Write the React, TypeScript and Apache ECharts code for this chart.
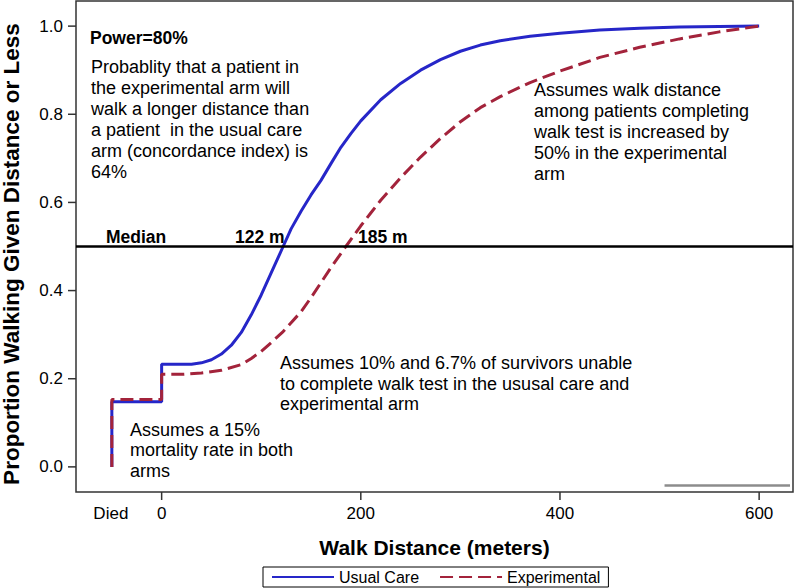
import React, { useEffect, useRef } from "react";
import * as echarts from "echarts";

// Usual Care curve (walk distance in m, cumulative proportion); -50 = "Died"
const usualX = [-50, -50, 0, 0, 30, 40, 50, 60, 70, 80, 90, 100, 110, 122, 130, 140, 150, 160, 170, 180, 190, 200, 220, 240, 260, 280, 300, 320, 340, 370, 400, 440, 480, 520, 560, 600];
const usualY = [0, 0.148, 0.148, 0.233, 0.233, 0.236, 0.243, 0.256, 0.276, 0.305, 0.345, 0.39, 0.44, 0.5, 0.54, 0.58, 0.617, 0.65, 0.688, 0.725, 0.756, 0.785, 0.833, 0.87, 0.9, 0.924, 0.943, 0.957, 0.967, 0.977, 0.984, 0.991, 0.995, 0.998, 0.999, 1.0];

// Experimental curve
const expX = [-50, -50, 0, 0, 20, 40, 60, 80, 90, 100, 110, 122, 130, 140, 150, 160, 170, 185, 200, 210, 220, 240, 260, 280, 300, 320, 340, 370, 400, 440, 480, 520, 560, 600];
const expY = [0, 0.153, 0.153, 0.21, 0.21, 0.213, 0.219, 0.232, 0.246, 0.262, 0.282, 0.307, 0.327, 0.352, 0.384, 0.418, 0.452, 0.5, 0.547, 0.576, 0.605, 0.656, 0.703, 0.745, 0.783, 0.815, 0.84, 0.872, 0.898, 0.929, 0.952, 0.971, 0.987, 1.0];

// small grey segment at lower right
const greyX = [505, 631];
const greyY = [-0.042, -0.042];

const medianValue = 0.5;
const xMin = -86;
const xMax = 634;
const yMin = -0.057;
const yMax = 1.057;
const xTickValues = [0, 200, 400, 600];
const xLabelValues = [-51, 0, 200, 400, 600];
const yTickValues = [0, 0.2, 0.4, 0.6, 0.8, 1.0];

const FONT = "Arial, 'Liberation Sans', Helvetica, sans-serif";
const GRID = { left: 76, right: 4, top: 1, bottom: 96 };
const W = 797;
const H = 588;

const zip = (xs: number[], ys: number[]) => xs.map((x, i) => [x, ys[i]]);

export default function App() {
  const ref = useRef<HTMLDivElement>(null);
  useEffect(() => {
    if (!ref.current) return;
    const chart = echarts.init(ref.current, undefined, { renderer: "svg" });
    const txt = (x: number, y: number, text: string, size: number, bold = false, lh = 21) => ({
      type: "text",
      x,
      y,
      style: {
        text,
        fontSize: size,
        fontWeight: bold ? "bold" : "normal",
        fontFamily: FONT,
        fill: "#000",
        lineHeight: lh,
      },
    });
    const textElements: any[] = [
      {
        type: "text",
        x: 11,
        y: 254,
        rotation: Math.PI / 2,
        style: {
          text: "Proportion Walking Given Distance or Less",
          fontSize: 22.5,
          fontWeight: "bold",
          fontFamily: FONT,
          fill: "#000",
          align: "center",
          verticalAlign: "middle",
        },
      },
      txt(90, 28, "Power=80%", 17.5, true, 20),
      txt(91, 56, "Probablity that a patient in\nthe experimental arm will\nwalk a longer distance than\na patient  in the usual care\narm (concordance index) is\n64%", 18, false, 21),
      txt(534, 79.5, "Assumes walk distance\namong patients completing\nwalk test is increased by\n50% in the experimental\narm", 18, false, 21),
      txt(280, 353, "Assumes 10% and 6.7% of survivors unable\nto complete walk test in the ususal care and\nexperimental arm", 18, false, 20.5),
      txt(130, 419.5, "Assumes a 15%\nmortality rate in both\narms", 18, false, 20.5),
      txt(106, 226.5, "Median", 17.5, true, 20),
      txt(235, 226.5, "122 m", 17.5, true, 20),
      txt(358, 226.5, "185 m", 17.5, true, 20),
    ];
    chart.setOption({
      animation: false,
      backgroundColor: "#fff",
      grid: {
        ...GRID,
        show: true,
        borderColor: "#333",
        borderWidth: 1.5,
        containLabel: false,
      },
      xAxis: {
        type: "value",
        min: xMin,
        max: xMax,
        name: "Walk Distance (meters)",
        nameLocation: "middle",
        nameGap: 45,
        nameTextStyle: { fontSize: 21, fontWeight: "bold", color: "#000", fontFamily: FONT },
        axisLine: { show: false, onZero: false },
        splitLine: { show: false },
        axisTick: { show: false },
        axisLabel: {
          customValues: xLabelValues,
          margin: 13,
          fontSize: 17,
          color: "#000",
          fontFamily: FONT,
          formatter: (v: number) => (v < 0 ? "Died" : String(v)),
        },
      },
      yAxis: {
        type: "value",
        min: yMin,
        max: yMax,
        axisLine: { show: false, onZero: false },
        splitLine: { show: false },
        axisTick: { show: false },
        axisLabel: {
          customValues: yTickValues,
          margin: 13,
          fontSize: 17,
          color: "#000",
          fontFamily: FONT,
          formatter: (v: number) => v.toFixed(1),
        },
      },
      legend: {
        data: ["Usual Care", "Experimental"],
        left: 263,
        top: 567,
        itemWidth: 62,
        itemHeight: 12,
        itemGap: 20,
        padding: [2, 8, 2, 8],
        borderColor: "#000",
        borderWidth: 1,
        borderRadius: 0,
        itemStyle: { opacity: 0 },
        textStyle: { fontSize: 16, color: "#000", fontFamily: FONT },
      },
      series: [
        {
          name: "grey",
          type: "line",
          data: zip(greyX, greyY),
          symbol: "none",
          lineStyle: { color: "#8c8c8c", width: 2.5 },
          markLine: {
            silent: true,
            symbol: "none",
            label: { show: false },
            lineStyle: { color: "#000", width: 2.5, type: "solid" },
            data: [{ yAxis: medianValue }],
          },
        },
        {
          name: "Usual Care",
          type: "line",
          data: zip(usualX, usualY),
          symbol: "none",
          showSymbol: false,
          color: "#2626c8",
          itemStyle: { opacity: 0 },
          lineStyle: { color: "#2626c8", width: 3 },
        },
        {
          name: "Experimental",
          type: "line",
          data: zip(expX, expY),
          symbol: "none",
          showSymbol: false,
          color: "#a3233b",
          itemStyle: { opacity: 0 },
          lineStyle: { color: "#a3233b", width: 3, type: [13, 6] },
        },
      ],
      graphic: { elements: textElements },
    });

    // pixel position of a data point, through the chart's scales (fallback: grid mapping)
    const toPx = (x: number, y: number): number[] => {
      let p: any = null;
      try {
        p = chart.convertToPixel({ seriesIndex: 1 }, [x, y]);
      } catch (e) {
        p = null;
      }
      if (!p || !isFinite(p[0]) || !isFinite(p[1])) {
        const gx0 = GRID.left;
        const gx1 = W - GRID.right;
        const gy0 = GRID.top;
        const gy1 = H - GRID.bottom;
        p = [
          gx0 + ((x - xMin) / (xMax - xMin)) * (gx1 - gx0),
          gy1 - ((y - yMin) / (yMax - yMin)) * (gy1 - gy0),
        ];
      }
      return p;
    };

    const tickEls: any[] = [];
    xTickValues.forEach((v) => {
      const p = toPx(v, yMin);
      tickEls.push({
        type: "rect",
        z: 100,
        silent: true,
        shape: { x: p[0] - 0.75, y: p[1], width: 1.5, height: 8 },
        style: { fill: "#333" },
      });
    });
    yTickValues.forEach((v) => {
      const p = toPx(xMin, v);
      tickEls.push({
        type: "rect",
        z: 100,
        silent: true,
        shape: { x: p[0] - 8, y: p[1] - 0.75, width: 8, height: 1.5 },
        style: { fill: "#333" },
      });
    });
    chart.setOption({ graphic: { elements: textElements.concat(tickEls) } });
    return () => chart.dispose();
  }, []);
  return (
    <div
      ref={ref}
      style={{ position: "absolute", left: 0, top: 0, width: 797, height: 588 }}
    />
  );
}
